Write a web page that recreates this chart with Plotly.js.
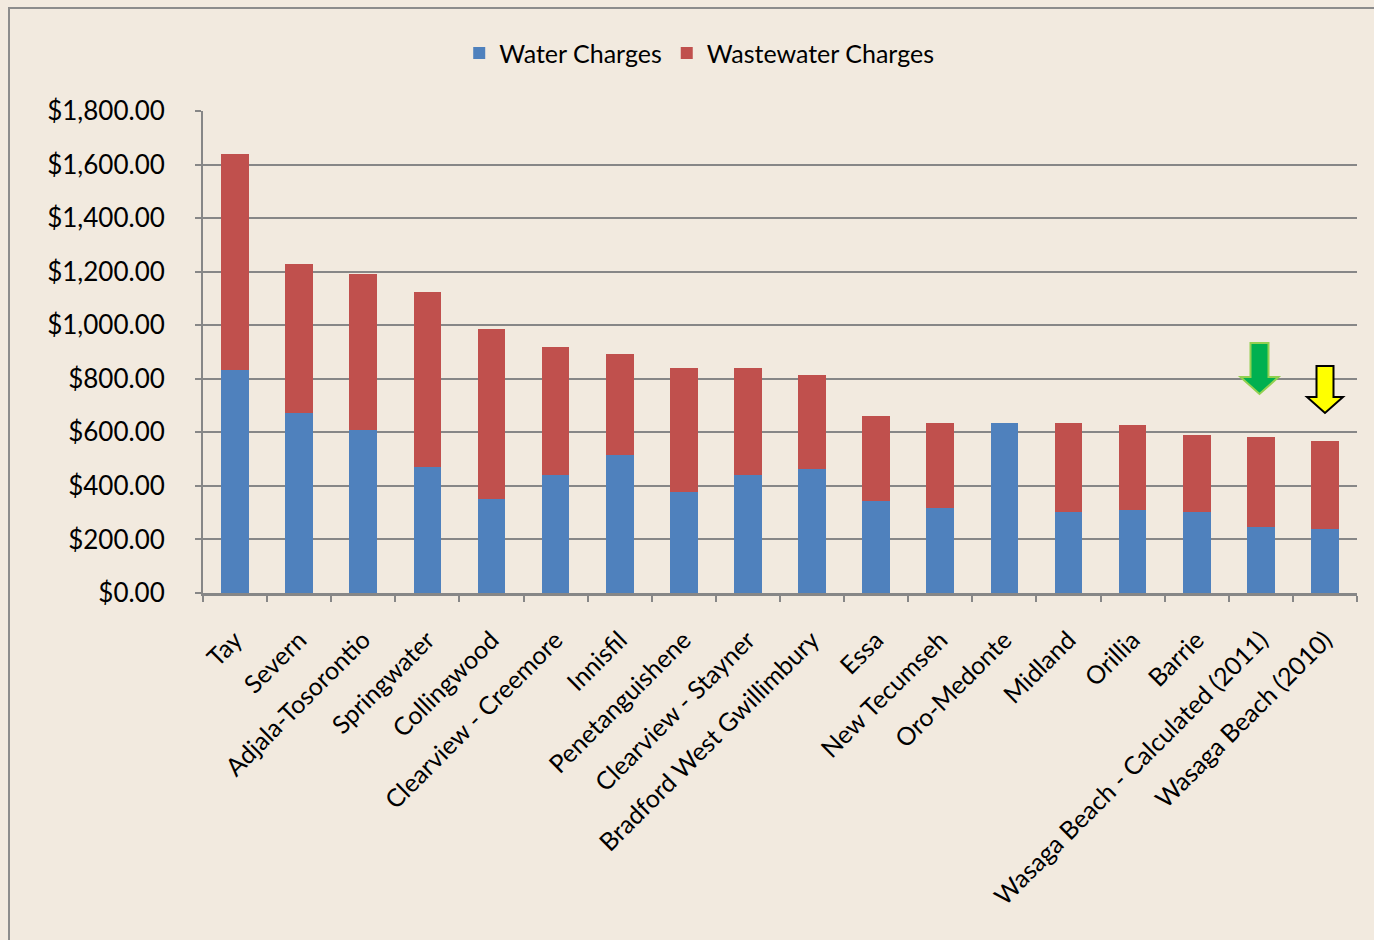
<!DOCTYPE html>
<html>
<head>
<meta charset="utf-8">
<script src="https://cdn.plot.ly/plotly-3.0.1.min.js"></script>
<style>
html,body{margin:0;padding:0;background:#F2EADF;}
#chart{width:1374px;height:940px;}
</style>
</head>
<body>
<div id="chart"></div>
<script>
const categories = ["Tay","Severn","Adjala-Tosorontio","Springwater","Collingwood","Clearview - Creemore","Innisfil","Penetanguishene","Clearview - Stayner","Bradford West Gwillimbury","Essa","New Tecumseh","Oro-Medonte","Midland","Orillia","Barrie","Wasaga Beach - Calculated (2011)","Wasaga Beach (2010)"];
const waterCharges = [833,671,609,472,351,440,515,377,440,463,344,317,635,301,309,301,248,239];
const wastewaterCharges = [807,557,584,653,636,479,378,465,402,352,317,318,0,334,317,290,335,328];

const FONT = "Lato, 'Open Sans', sans-serif";
const BG = "#F2EADF";
const GRID = "#878787";

// helpers converting pixel positions to paper fractions for decorative arrows
const L = 203, R = 1357, T = 111, B = 593;
const px = v => (v - L) / (R - L);
const py = v => (B - v) / (B - T);
function arrowPath(cx, top, headTop, tip, shaftHalf, headHalf) {
  return "M " + px(cx - shaftHalf) + " " + py(top) +
         " L " + px(cx + shaftHalf) + " " + py(top) +
         " L " + px(cx + shaftHalf) + " " + py(headTop) +
         " L " + px(cx + headHalf) + " " + py(headTop) +
         " L " + px(cx) + " " + py(tip) +
         " L " + px(cx - headHalf) + " " + py(headTop) +
         " L " + px(cx - shaftHalf) + " " + py(headTop) + " Z";
}

const traces = [
  {type:"bar", name:"Water Charges", x:categories, y:waterCharges,
   marker:{color:"#4F81BD"}},
  {type:"bar", name:"Wastewater Charges", x:categories, y:wastewaterCharges,
   marker:{color:"#C0504D"}}
];

const layout = {
  width:1374, height:940,
  paper_bgcolor:BG, plot_bgcolor:BG,
  barmode:"stack", bargap:0.57,
  margin:{l:203, r:17, t:111, b:347},
  font:{family:FONT, color:"#000", size:24},
  hovermode:false,
  showlegend:true,
  legend:{orientation:"h", x:0.43, y:1.12, xanchor:"center", yanchor:"middle",
          font:{family:FONT, size:25, color:"#000"}, bgcolor:"rgba(0,0,0,0)",
          itemwidth:30, traceorder:"normal"},
  xaxis:{type:"category", tickangle:-45, tickfont:{family:FONT, size:25, color:"#000"},
         ticklabelstandoff:20,
         showline:true, linecolor:GRID, linewidth:2.5, ticks:"outside", tickson:"boundaries",
         ticklen:6, tickwidth:2, tickcolor:GRID, showgrid:false, automargin:false},
  yaxis:{range:[0,1800], dtick:200, tickformat:"$,.2f", tickfont:{family:FONT, size:26, color:"#000"},
         ticklabelstandoff:25,
         showline:true, linecolor:GRID, linewidth:2, ticks:"outside", ticklen:6, tickwidth:2,
         tickcolor:GRID, showgrid:true, gridcolor:GRID, gridwidth:2, zeroline:false, automargin:false},
  shapes:[
    {type:"rect", xref:"paper", yref:"paper", x0:px(9), x1:px(1390), y0:py(960), y1:py(8),
     line:{color:"#8C8C8C", width:2}, fillcolor:"rgba(0,0,0,0)", layer:"below"},
    {type:"path", xref:"paper", yref:"paper", path:arrowPath(1259.5, 343, 377, 394, 9, 19),
     fillcolor:"#00B050", line:{color:"#92D050", width:2}},
    {type:"path", xref:"paper", yref:"paper", path:arrowPath(1325, 366, 397, 413, 8.5, 18),
     fillcolor:"#FFFF00", line:{color:"#000000", width:2}}
  ]
};

Plotly.newPlot("chart", traces, layout, {displayModeBar:false, staticPlot:true});
</script>
</body>
</html>
